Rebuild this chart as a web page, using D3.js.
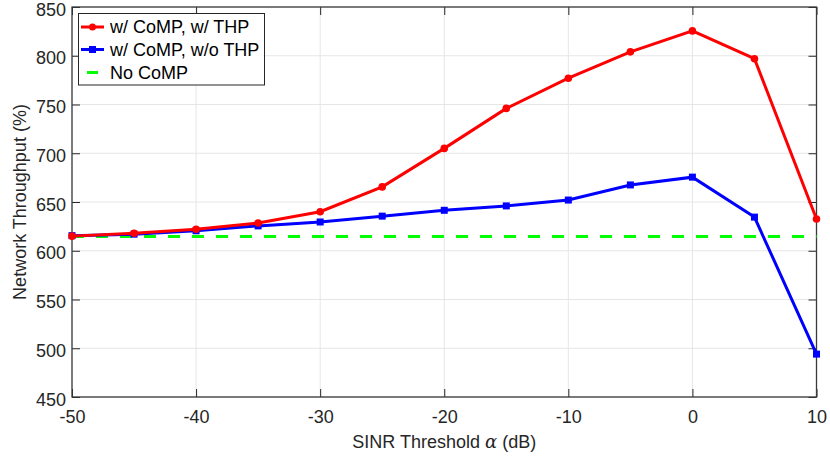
<!DOCTYPE html>
<html><head><meta charset="utf-8">
<script src="https://cdn.jsdelivr.net/npm/d3@7"></script>
<style>body{margin:0;background:#fff}svg{display:block}text{font-family:"Liberation Sans",Arial,sans-serif}</style>
</head><body>
<svg id="c" width="830" height="460"></svg>
<script>
const sinr = [-50,-45,-40,-35,-30,-25,-20,-15,-10,-5,0,5,10];
const withTHP = [615,618,622,628.5,640,665.5,705,746,777,804,825.5,797,632.5];
const withoutTHP = [615.5,617,620.5,625.5,629.5,635.5,641.5,646,652,667.5,675.5,634.5,494];
const noCoMP = 614.5;
const xTicks = [-50,-40,-30,-20,-10,0,10];
const yTicks = [450,500,550,600,650,700,750,800,850];
const seriesNames = ["w/ CoMP, w/ THP","w/ CoMP, w/o THP","No CoMP"];

const svg = d3.select("#c");
const L=72, R=816.5, T=7, B=397;
const x = d3.scaleLinear().domain([-50,10]).range([L,R]);
const y = d3.scaleLinear().domain([450,850]).range([B,T]);
const fmt = d => String(d);

// grid
const g = svg.append("g");
g.selectAll(".gx").data(xTicks).join("line").attr("x1",d=>x(d)).attr("x2",d=>x(d)).attr("y1",T).attr("y2",B).attr("stroke","#e6e6e6").attr("stroke-width",1);
g.selectAll(".gy").data(yTicks).join("line").attr("y1",d=>y(d)).attr("y2",d=>y(d)).attr("x1",L).attr("x2",R).attr("stroke","#e6e6e6").attr("stroke-width",1);

// axes
const tickStyle = sel => { sel.select(".domain").remove(); sel.selectAll("line").attr("stroke","#262626"); sel.selectAll("text").attr("fill","#262626").style("font-size","18px"); };
svg.append("g").attr("transform",`translate(0,${B})`).call(d3.axisBottom(x).tickValues(xTicks).tickSize(-8).tickPadding(13).tickFormat(fmt)).call(tickStyle);
svg.append("g").attr("transform",`translate(0,${T})`).call(d3.axisTop(x).tickValues(xTicks).tickSize(-8).tickFormat("")).call(tickStyle);
svg.append("g").attr("transform",`translate(${L},0)`).call(d3.axisLeft(y).tickValues(yTicks).tickSize(-8).tickPadding(6).tickFormat(fmt)).call(tickStyle)
  .selectAll("text").attr("dy","0.45em");
svg.append("g").attr("transform",`translate(${R},0)`).call(d3.axisRight(y).tickValues(yTicks).tickSize(-8).tickFormat("")).call(tickStyle);
svg.append("rect").attr("x",L).attr("y",T).attr("width",R-L).attr("height",B-T).attr("fill","none").attr("stroke","#3a3a3a").attr("stroke-width",1.3);

// lines
const line = d3.line().x((d,i)=>x(sinr[i])).y(d=>y(d));
svg.append("line").attr("x1",L).attr("x2",R).attr("y1",y(noCoMP)).attr("y2",y(noCoMP)).attr("stroke","#00ff00").attr("stroke-width",3).attr("stroke-dasharray","12,12");
svg.append("path").datum(withoutTHP).attr("d",line).attr("fill","none").attr("stroke","#0000ff").attr("stroke-width",3);
svg.selectAll(".sq").data(withoutTHP).join("rect").attr("x",(d,i)=>x(sinr[i])-3.5).attr("y",d=>y(d)-3.5).attr("width",7).attr("height",7).attr("fill","#0000ff");
svg.append("path").datum(withTHP).attr("d",line).attr("fill","none").attr("stroke","#ff0000").attr("stroke-width",3);
svg.selectAll(".ci").data(withTHP).join("circle").attr("cx",(d,i)=>x(sinr[i])).attr("cy",d=>y(d)).attr("r",3.8).attr("fill","#ff0000");

// legend
const lg = svg.append("g");
lg.append("rect").attr("x",78.5).attr("y",13.5).attr("width",186).attr("height",71.5).attr("fill","#fff").attr("stroke","#262626").attr("stroke-width",1);
const ly=[27,49.5,72.5];
const cols=["#ff0000","#0000ff","#00ff00"];
[0,1,2].forEach(i=>{
  if(i<2){
    lg.append("line").attr("x1",81).attr("x2",104).attr("y1",ly[i]).attr("y2",ly[i]).attr("stroke",cols[i]).attr("stroke-width",3);
    if(i==0) lg.append("circle").attr("cx",92.5).attr("cy",ly[i]).attr("r",3.5).attr("fill",cols[i]);
    else lg.append("rect").attr("x",89).attr("y",ly[i]-3.5).attr("width",7).attr("height",7).attr("fill",cols[i]);
  } else {
    lg.append("line").attr("x1",87).attr("x2",98).attr("y1",ly[i]).attr("y2",ly[i]).attr("stroke",cols[i]).attr("stroke-width",3);
  }
  lg.append("text").attr("x",110).attr("y",ly[i]).attr("dy","0.36em").attr("fill","#000").style("font-size","18px").text(seriesNames[i]);
});

// axis labels
const xl = svg.append("text").attr("x",(L+R)/2).attr("y",448).attr("text-anchor","middle").attr("fill","#262626").style("font-size","18px");
xl.append("tspan").text("SINR Threshold ");
xl.append("tspan").style("font-style","italic").style("font-family","'DejaVu Serif',serif").text("α");
xl.append("tspan").text(" (dB)");
svg.append("text").attr("transform",`translate(26,${(T+B)/2}) rotate(-90)`).attr("text-anchor","middle").attr("fill","#262626").style("font-size","18px").text("Network Throughput (%)");
</script>
</body></html>
